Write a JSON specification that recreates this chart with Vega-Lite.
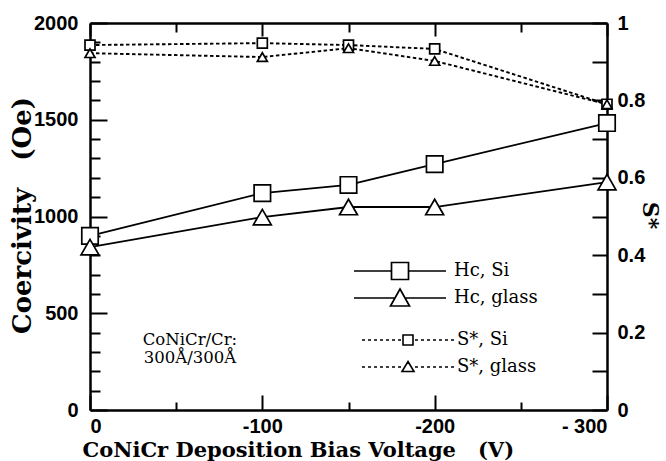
{
  "$schema": "https://vega.github.io/schema/vega-lite/v6.json",
  "width": 517,
  "height": 387,
  "autosize": "none",
  "padding": {"left": 90, "top": 23, "right": 59, "bottom": 51},
  "background": "white",
  "config": {
    "view": {"stroke": null},
    "font": "DejaVu Serif",
    "axis": {
      "grid": false,
      "domainColor": "black",
      "domainWidth": 2.5,
      "tickColor": "black",
      "tickWidth": 2,
      "labelColor": "black",
      "labelFont": "Liberation Sans",
      "labelFontWeight": "bold",
      "labelFontSize": 20,
      "titleColor": "black",
      "titleFont": "DejaVu Serif",
      "titleFontWeight": "bold"
    }
  },
  "data": {
    "values": [
      {"V": 0, "sub": "Si", "hc": "Hc, Si", "s": "S*, Si", "Hc": 900, "S": 0.943},
      {"V": -100, "sub": "Si", "hc": "Hc, Si", "s": "S*, Si", "Hc": 1121, "S": 0.948},
      {"V": -150, "sub": "Si", "hc": "Hc, Si", "s": "S*, Si", "Hc": 1163, "S": 0.943},
      {"V": -200, "sub": "Si", "hc": "Hc, Si", "s": "S*, Si", "Hc": 1271, "S": 0.933},
      {"V": -300, "sub": "Si", "hc": "Hc, Si", "s": "S*, Si", "Hc": 1483, "S": 0.79},
      {"V": 0, "sub": "glass", "hc": "Hc, glass", "s": "S*, glass", "Hc": 842, "S": 0.922},
      {"V": -100, "sub": "glass", "hc": "Hc, glass", "s": "S*, glass", "Hc": 997, "S": 0.912},
      {"V": -150, "sub": "glass", "hc": "Hc, glass", "s": "S*, glass", "Hc": 1049, "S": 0.935},
      {"V": -200, "sub": "glass", "hc": "Hc, glass", "s": "S*, glass", "Hc": 1049, "S": 0.902},
      {"V": -300, "sub": "glass", "hc": "Hc, glass", "s": "S*, glass", "Hc": 1178, "S": 0.79}
    ]
  },
  "layer": [
    {
      "encoding": {
        "x": {
          "field": "V", "type": "quantitative",
          "scale": {"domain": [0, -300], "nice": false, "zero": false},
          "axis": {
            "orient": "bottom",
            "values": [0, -50, -100, -150, -200, -250, -300],
            "labelExpr": "datum.value % 100 === 0 ? (datum.value === -300 ? '- 300' : '' + datum.value) : ''",
            "tickSize": {"condition": {"test": "datum.value % 100 === 0", "value": -15}, "value": -8},
            "labelPadding": 21,
            "title": "CoNiCr Deposition Bias Voltage \u00a0\u00a0(V)",
            "titleFontSize": 21,
            "titleAnchor": "start",
            "titleAlign": "left",
            "titleBaseline": "alphabetic",
            "titleX": -8,
            "titleY": 46
          }
        },
        "y": {
          "field": "Hc", "type": "quantitative",
          "scale": {"domain": [0, 2000], "nice": false},
          "axis": {
            "orient": "left",
            "values": [0, 100, 200, 300, 400, 500, 600, 700, 800, 900, 1000, 1100, 1200, 1300, 1400, 1500, 1600, 1700, 1800, 1900, 2000],
            "format": "d",
            "labelExpr": "datum.value % 500 === 0 ? datum.label : ''",
            "tickSize": {"condition": {"test": "datum.value % 500 === 0", "value": -17}, "value": -10},
            "labelPadding": 29,
            "title": "Coercivity \u00a0\u00a0(Oe)",
            "titleFontSize": 26,
            "titleAngle": -90,
            "titleAlign": "center",
            "titleBaseline": "middle",
            "titleX": -68,
            "titleY": 192
          }
        }
      },
      "layer": [
        {
          "mark": {"type": "line", "strokeWidth": 1.8},
          "encoding": {
            "color": {
              "field": "hc", "type": "nominal",
              "scale": {"domain": ["Hc, Si", "Hc, glass"], "range": ["black", "black"]},
              "legend": {
                "orient": "none",
                "legendX": 299,
                "legendY": 237,
                "title": null,
                "padding": 0,
                "rowPadding": 2,
                "labelFont": "DejaVu Serif",
                "labelFontSize": 18,
                "labelColor": "black",
                "labelOffset": 43,
                "symbolSize": 400,
                "symbolStrokeWidth": 1.7,
                "symbolStrokeColor": "black",
                "symbolFillColor": "white",
                "symbolType": {"expr": "datum.value === 'Hc, Si' ? 'M-4.6,0H-0.85M0.85,0H4.6M-0.85,-0.85H0.85V0.85H-0.85Z' : 'M-4.6,0H-0.5M0.5,0H4.6M0,-0.9L0.95,0.8H-0.95Z'"}
              }
            }
          }
        },
        {
          "mark": {"type": "point", "filled": true, "fill": "white", "stroke": "black", "strokeWidth": 1.7, "opacity": 1},
          "encoding": {
            "shape": {"field": "sub", "type": "nominal", "scale": {"domain": ["Si", "glass"], "range": ["square", "triangle-up"]}, "legend": null},
            "size": {"field": "sub", "type": "nominal", "scale": {"domain": ["Si", "glass"], "range": [270, 320]}, "legend": null}
          }
        },
        {
          "transform": [{"filter": "datum.V === 0 && datum.sub === 'Si'"}],
          "mark": {"type": "text", "font": "DejaVu Serif", "fontSize": 16.5, "align": "center", "baseline": "alphabetic", "lineHeight": 18, "fill": "black"},
          "encoding": {
            "x": {"datum": -58, "type": "quantitative"},
            "y": {"datum": 336, "type": "quantitative"},
            "text": {"value": ["CoNiCr/Cr:", "300Å/300Å"]}
          }
        }
      ]
    },
    {
      "encoding": {
        "x": {
          "field": "V", "type": "quantitative",
          "scale": {"domain": [0, -300], "nice": false, "zero": false},
          "axis": {
            "orient": "top",
            "values": [0, -50, -100, -150, -200, -250, -300],
            "labels": false,
            "title": null,
            "tickSize": {"condition": {"test": "datum.value % 100 === 0", "value": -13}, "value": -9}
          }
        },
        "y": {
          "field": "S", "type": "quantitative",
          "scale": {"domain": [0, 1], "nice": false},
          "axis": {
            "orient": "right",
            "values": [0, 0.1, 0.2, 0.3, 0.4, 0.5, 0.6, 0.7, 0.8, 0.9, 1],
            "format": "~g",
            "labelExpr": "round(datum.value * 10) % 2 === 0 ? datum.label : ''",
            "tickSize": -15,
            "labelPadding": 25,
            "title": "S*",
            "titleFontSize": 22,
            "titleAngle": 90,
            "titleAlign": "center",
            "titleBaseline": "middle",
            "titleX": 42,
            "titleY": 192
          }
        }
      },
      "layer": [
        {
          "mark": {"type": "line", "strokeWidth": 1.9, "strokeDash": [3.5, 2.5]},
          "encoding": {
            "color": {
              "field": "s", "type": "nominal",
              "scale": {"domain": ["S*, Si", "S*, glass"], "range": ["black", "black"]},
              "legend": {
                "orient": "none",
                "legendX": 307,
                "legendY": 306,
                "title": null,
                "padding": 0,
                "rowPadding": 7,
                "labelFont": "DejaVu Serif",
                "labelFontSize": 18,
                "labelColor": "black",
                "labelOffset": 38,
                "symbolSize": 400,
                "symbolStrokeWidth": 1.6,
                "symbolStrokeColor": "black",
                "symbolFillColor": "white",
                "symbolDash": [],
                "symbolType": {"expr": "datum.value === 'S*, Si' ? 'M-4.6,0H-4.3M-4,0H-3.7M-3.4,0H-3.1M-2.8,0H-2.5M-2.2,0H-1.9M-1.6,0H-1.3M-1,0H-0.7M0.7,0H1M1.3,0H1.6M1.9,0H2.2M2.5,0H2.8M3.1,0H3.4M3.7,0H4M4.3,0H4.6M-0.5,-0.5H0.5V0.5H-0.5Z' : 'M-4.6,0H-4.3M-4,0H-3.7M-3.4,0H-3.1M-2.8,0H-2.5M-2.2,0H-1.9M-1.6,0H-1.3M-1,0H-0.7M0.7,0H1M1.3,0H1.6M1.9,0H2.2M2.5,0H2.8M3.1,0H3.4M3.7,0H4M4.3,0H4.6M0,-0.55L0.6,0.45H-0.6Z'"}
              }
            }
          }
        },
        {
          "mark": {"type": "point", "filled": true, "fill": "white", "stroke": "black", "strokeWidth": 1.7, "size": 100, "opacity": 1},
          "encoding": {
            "shape": {"field": "sub", "type": "nominal", "scale": {"domain": ["Si", "glass"], "range": ["square", "triangle-up"]}, "legend": null}
          }
        }
      ]
    }
  ],
  "resolve": {
    "scale": {"y": "independent", "color": "independent", "size": "independent", "shape": "independent", "x": "shared"},
    "axis": {"x": "independent", "y": "independent"},
    "legend": {"color": "independent"}
  }
}
